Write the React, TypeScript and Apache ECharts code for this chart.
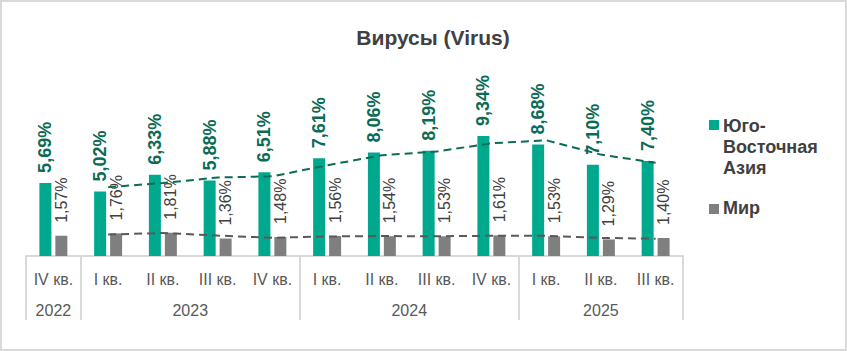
import React, { useEffect, useRef } from "react";
import * as echarts from "echarts";

const titleText = "Вирусы (Virus)";
const quarters = ["IV кв.", "I кв.", "II кв.", "III кв.", "IV кв.", "I кв.", "II кв.", "III кв.", "IV кв.", "I кв.", "II кв.", "III кв."];
const years = ["2022", "2023", "2024", "2025"];
const quartersPerYear = [1, 4, 4, 3];
const seriesNames = ["Юго-\nВосточная\nАзия", "Мир"];
const seAsia = [5.69, 5.02, 6.33, 5.88, 6.51, 7.61, 8.06, 8.19, 9.34, 8.68, 7.10, 7.40];
const world = [1.57, 1.76, 1.81, 1.36, 1.48, 1.56, 1.54, 1.53, 1.61, 1.53, 1.29, 1.40];
// dashed trend lines (2-period moving average as drawn in the picture)
const seAsiaTrend = [null, 5.36, 5.68, 6.11, 6.2, 7.06, 7.84, 8.13, 8.77, 9.01, 7.89, 7.25];
const worldTrend = [null, 1.67, 1.79, 1.59, 1.42, 1.52, 1.55, 1.54, 1.57, 1.57, 1.41, 1.35];

const GREEN = "#00A88E";
const DARK_GREEN = "#0A6B57";
const GRAY = "#7F7F7F";
const FONT = "'Liberation Sans', Arial, sans-serif";

const fmt = (v: number) => v.toFixed(2).replace(".", ",") + "%";

export default function App() {
  const ref = useRef<HTMLDivElement>(null);
  useEffect(() => {
    document.body.style.margin = "0";
    if (!ref.current) return;
    const chart = echarts.init(ref.current, null, { renderer: "svg" });

    const boundaries: number[] = [0];
    quartersPerYear.forEach((n) => boundaries.push(boundaries[boundaries.length - 1] + n));
    const mids = quartersPerYear.map((n, i) => boundaries[i] + n / 2);
    const total = boundaries[boundaries.length - 1];

    chart.setOption({
      animation: false,
      textStyle: { fontFamily: FONT },
      title: {
        text: titleText,
        left: 433,
        textAlign: "center",
        top: 27,
        padding: 0,
        textStyle: { fontSize: 21, fontWeight: "bold", color: "#404040", fontFamily: FONT },
      },
      grid: { left: 26, right: 164, top: 127.5, bottom: 95 },
      xAxis: [
        {
          type: "category",
          data: quarters,
          axisLine: { lineStyle: { color: "#D9D9D9", width: 2 } },
          axisTick: { show: false },
          axisLabel: { color: "#595959", fontSize: 16, margin: 15, interval: 0, fontFamily: FONT },
        },
        {
          type: "value",
          min: 0,
          max: total,
          position: "bottom",
          axisLine: { show: false },
          splitLine: { show: false },
          axisTick: {
            show: true,
            customValues: boundaries,
            length: 64,
            lineStyle: { color: "#D9D9D9", width: 2 },
          },
          axisLabel: {
            customValues: mids,
            margin: 46,
            color: "#595959",
            fontSize: 16,
            fontFamily: FONT,
            formatter: (v: number) => {
              const i = mids.findIndex((m) => Math.abs(m - v) < 1e-6);
              return i >= 0 ? years[i] : "";
            },
          },
        },
      ],
      yAxis: { type: "value", min: 0, max: 10, show: false },
      series: [
        {
          name: seriesNames[0],
          type: "bar",
          xAxisIndex: 0,
          data: seAsia,
          barWidth: 12,
          barGap: "33%",
          itemStyle: { color: GREEN },
          label: {
            show: true,
            position: "top",
            rotate: 90,
            align: "left",
            verticalAlign: "middle",
            distance: 10,
            color: DARK_GREEN,
            fontSize: 18,
            fontWeight: "bold",
            fontFamily: FONT,
            formatter: (p: any) => fmt(p.value),
          },
        },
        {
          name: seriesNames[1],
          type: "bar",
          xAxisIndex: 0,
          data: world,
          barWidth: 12,
          itemStyle: { color: GRAY },
          label: {
            show: true,
            position: "top",
            rotate: 90,
            align: "left",
            verticalAlign: "middle",
            distance: 13,
            color: "#404040",
            fontSize: 16,
            fontFamily: FONT,
            formatter: (p: any) => fmt(p.value),
          },
        },
        {
          name: "trend1",
          type: "line",
          xAxisIndex: 0,
          data: seAsiaTrend,
          symbol: "none",
          lineStyle: { color: DARK_GREEN, width: 2, type: [8, 5] },
          z: 3,
        },
        {
          name: "trend2",
          type: "line",
          xAxisIndex: 0,
          data: worldTrend,
          symbol: "none",
          lineStyle: { color: "#595959", width: 2, type: [8, 5] },
          z: 3,
        },
      ],
      graphic: [
        {
          type: "rect",
          shape: { x: 1, y: 1, width: 845, height: 349 },
          style: { fill: "none", stroke: "#D9D9D9", lineWidth: 2 },
          silent: true,
        },
        { type: "rect", shape: { x: 709, y: 120, width: 10, height: 10 }, style: { fill: GREEN } },
        {
          type: "text",
          x: 723,
          y: 115,
          style: {
            text: seriesNames[0],
            fill: "#404040",
            font: `bold 18px ${FONT}`,
            lineHeight: 21,
            verticalAlign: "top",
          },
        },
        { type: "rect", shape: { x: 709, y: 204, width: 10, height: 10 }, style: { fill: GRAY } },
        {
          type: "text",
          x: 723,
          y: 197,
          style: {
            text: seriesNames[1],
            fill: "#404040",
            font: `bold 18px ${FONT}`,
            lineHeight: 21,
            verticalAlign: "top",
          },
        },
      ],
    });
    return () => chart.dispose();
  }, []);
  return <div ref={ref} style={{ width: 847, height: 351 }} />;
}
